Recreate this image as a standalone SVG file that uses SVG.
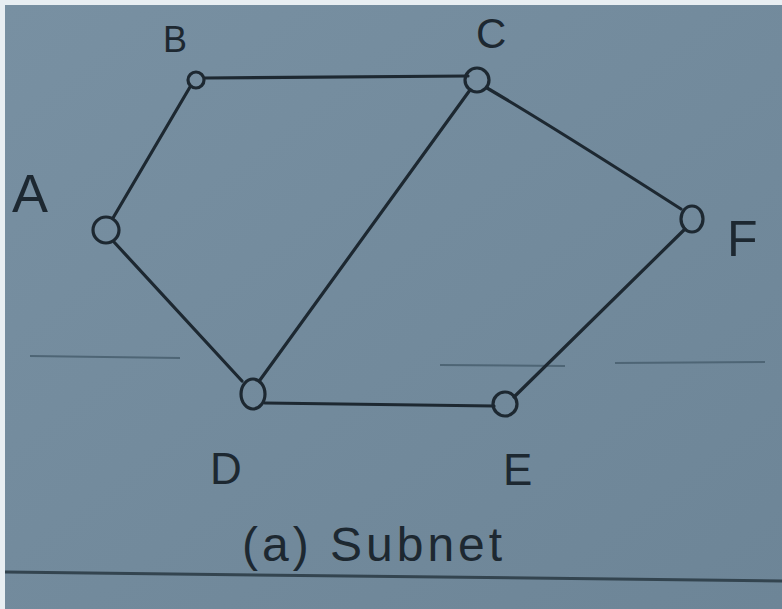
<svg xmlns="http://www.w3.org/2000/svg" width="782" height="609" viewBox="0 0 782 609">
<style>
.edge{stroke:#1d2831;stroke-width:3.2;fill:none;stroke-linecap:round}
.node{stroke:#1d2831;stroke-width:3.2;fill:none}
.lbl{font-family:"Liberation Sans",Arial,sans-serif;fill:#1d2831;font-weight:normal}
.rule{stroke:#4e6575;stroke-width:2;fill:none}
</style>
<defs>
<linearGradient id="paper" x1="0" y1="0" x2="1" y2="1">
<stop offset="0" stop-color="#7890a2"/>
<stop offset="1" stop-color="#6d8597"/>
</linearGradient>
</defs>
<rect x="0" y="0" width="782" height="609" fill="#e8eef2"/>
<rect x="5" y="5" width="777" height="604" fill="url(#paper)"/>
<g id="rules">
<path class="rule" d="M30 356 L180 358"/>
<path class="rule" d="M440 365 L565 366"/>
<path class="rule" d="M615 363 L765 362"/>
<path d="M5 572 Q300 574 782 581" stroke="#33444f" stroke-width="3" fill="none"/>
</g>
<g id="connectors">
<path class="edge" d="M205 78 L468 76"/>
<path class="edge" d="M190 87 L113 218"/>
<path class="edge" d="M114 242 L242 381"/>
<path class="edge" d="M487 88 Q550 125 681 209"/>
<path class="edge" d="M470 90 L260 380"/>
<path class="edge" d="M265 403 L494 406"/>
<path class="edge" d="M685 229 L514 397"/>
</g>
<g id="node-A"><circle class="node" cx="106" cy="230" r="13"/><text class="lbl" x="12" y="212" font-size="54">A</text></g>
<g id="node-B"><circle class="node" cx="196" cy="80" r="8"/><text class="lbl" x="163" y="52" font-size="36">B</text></g>
<g id="node-C"><circle class="node" cx="477" cy="80" r="12"/><text class="lbl" x="476" y="48" font-size="42">C</text></g>
<g id="node-F"><ellipse class="node" cx="692" cy="219" rx="11" ry="13"/><text class="lbl" x="727" y="256" font-size="50">F</text></g>
<g id="node-D"><ellipse class="node" cx="253" cy="394" rx="12" ry="15"/><text class="lbl" x="210" y="484" font-size="44">D</text></g>
<g id="node-E"><circle class="node" cx="505" cy="404" r="12"/><text class="lbl" x="503" y="485" font-size="44">E</text></g>
<text class="lbl" x="242" y="561" font-size="48" letter-spacing="4">(a) Subnet</text>
</svg>
